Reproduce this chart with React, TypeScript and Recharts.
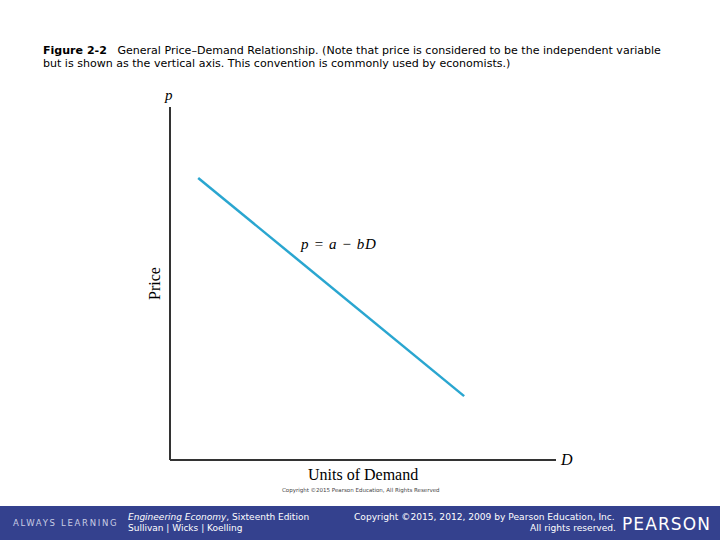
import { LineChart, Line, XAxis, YAxis } from 'recharts';

// demand line end points (axes carry no numbers)
const demandUnits = [7.3, 76.2];
const priceValues = [79.9, 18.1];
const xDomain = [0, 100];
const yDomain = [0, 100];

const titleBold = 'Figure 2-2';
const titleLine1 = 'General Price–Demand Relationship. (Note that price is considered to be the independent variable';
const titleLine2 = 'but is shown as the vertical axis. This convention is commonly used by economists.)';

const chartData = demandUnits.map((d, i) => ({ d, price: priceValues[i] }));

const serif = '"Liberation Serif", serif';
const sans = '"DejaVu Sans", sans-serif';

function Txt({ x, y, size, children, font = sans, color = '#000', style = {} }: any) {
  return (
    <div
      style={{
        position: 'absolute',
        left: x,
        top: y,
        fontSize: size,
        fontFamily: font,
        color,
        lineHeight: 1,
        whiteSpace: 'pre',
        ...style,
      }}
    >
      {children}
    </div>
  );
}

export default function App() {
  return (
    <div style={{ position: 'absolute', left: 0, top: 0, width: 720, height: 540, background: '#fff', overflow: 'hidden' }}>
      <Txt x={43} y={45} size={11.05}>
        <b>{titleBold}</b>
        {'   ' + titleLine1}
      </Txt>
      <Txt x={43} y={58} size={11.05}>{titleLine2}</Txt>

      <div style={{ position: 'absolute', left: 0, top: 0 }}>
        <LineChart width={720} height={540} data={chartData} margin={{ top: 107, right: 164, bottom: 79, left: 169 }}>
          <XAxis
            type="number"
            dataKey="d"
            domain={xDomain}
            height={1}
            tick={false}
            tickLine={false}
            axisLine={{ stroke: '#333', strokeWidth: 2 }}
          />
          <YAxis
            type="number"
            domain={yDomain}
            width={1}
            tick={false}
            tickLine={false}
            axisLine={{ stroke: '#333', strokeWidth: 2 }}
          />
          <Line
            dataKey="price"
            type="linear"
            stroke="#2aa6d0"
            strokeWidth={2.5}
            dot={false}
            isAnimationActive={false}
          />
        </LineChart>
      </div>

      <Txt x={165} y={88} size={15} font={serif} style={{ fontStyle: 'italic' }}>p</Txt>
      <Txt x={561} y={452} size={16} font={serif} style={{ fontStyle: 'italic' }}>D</Txt>
      <Txt x={301} y={237} size={15} font={serif} style={{ fontStyle: 'italic', letterSpacing: 0.7 }}>
        {'p = a − bD'}
      </Txt>
      <Txt x={308} y={467} size={16} font={serif}>Units of Demand</Txt>
      <Txt
        x={147}
        y={300}
        size={16}
        font={serif}
        style={{ transform: 'rotate(-90deg)', transformOrigin: '0 0' }}
      >
        Price
      </Txt>
      <Txt x={282} y={488} size={5.5} color="#444">Copyright ©2015 Pearson Education, All Rights Reserved</Txt>

      <div style={{ position: 'absolute', left: 0, top: 506, width: 720, height: 34, background: '#34418e' }} />
      <Txt x={13} y={519} size={8.5} color="#c9cde4" style={{ letterSpacing: 1.7 }}>ALWAYS LEARNING</Txt>
      <Txt x={128} y={513} size={9} color="#fff"><i>Engineering Economy</i>, Sixteenth Edition</Txt>
      <Txt x={128} y={524} size={9} color="#fff">Sullivan | Wicks | Koelling</Txt>
      <Txt x={354} y={513} size={9.1} color="#fff">Copyright ©2015, 2012, 2009 by Pearson Education, Inc.</Txt>
      <Txt x={530} y={524} size={9.1} color="#fff">All rights reserved.</Txt>
      <Txt x={622} y={516} size={17} color="#fff" style={{ letterSpacing: 1.1 }}>PEARSON</Txt>
    </div>
  );
}
